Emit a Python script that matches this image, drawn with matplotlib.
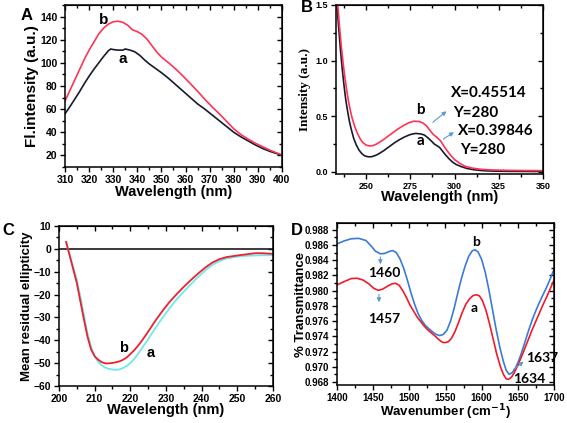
import matplotlib
matplotlib.use("Agg")
import matplotlib.pyplot as plt
from matplotlib.ticker import MultipleLocator

plt.rcParams["font.family"] = "Liberation Sans"
plt.rcParams["font.weight"] = "bold"

# ---- panel A: fluorescence
wl_a = [310, 312, 314, 316, 318, 320, 322, 324, 326, 328, 329, 330, 332, 334, 335, 337,
        339, 341, 343, 345, 348, 350, 353, 356, 359, 362, 365, 368, 371, 374, 377,
        380, 383, 386, 389, 392, 395, 398, 400]
fl_a = [56, 62, 68.5, 75, 82, 88.5, 94.5, 100, 105.5, 110.5, 112, 111.5, 111, 111, 112, 111,
        109.5, 106.5, 102.5, 99, 94.5, 91.5, 86.5, 81, 75.5, 70, 64.5, 60, 55, 50, 45,
        40, 36, 32.5, 29, 26, 23.5, 21.5, 20]
wl_b = [310, 312, 314, 316, 318, 320, 322, 324, 326, 328, 330, 332, 334, 336, 338, 340,
        342, 344, 346, 348, 350, 353, 356, 359, 362, 365, 368, 371, 374, 377, 380,
        383, 386, 389, 392, 395, 398, 400]
fl_b = [67, 76, 85, 94, 103, 111, 118, 125, 130, 133.5, 135.5, 136, 135, 132.5, 128.5, 127,
        124.5, 120.5, 115, 109.5, 105, 100, 94.5, 88.5, 82, 75.5, 68.5, 62, 56, 49.5, 43,
        38, 34, 30.5, 27.5, 24.5, 22, 20.5]

# ---- panel B: UV absorbance
uv_x_a = [233.5, 234.5, 235.5, 236.5, 237.5, 238.5, 239.5, 240.5, 241.5, 243, 244.5, 246,
          247.5, 249, 251, 253, 255, 257, 260, 263, 266, 269, 272, 275, 278, 281, 283,
          285, 287, 288.5, 290, 291.5, 293, 295, 297, 299, 301, 304, 307, 311, 316, 322,
          330, 340, 350]
uv_y_a = [1.5, 1.3, 1.1, 0.93, 0.78, 0.65, 0.55, 0.46, 0.39, 0.3, 0.24, 0.195,
          0.165, 0.145, 0.135, 0.135, 0.145, 0.16, 0.19, 0.225, 0.26, 0.29, 0.315, 0.335,
          0.345, 0.34, 0.33, 0.305, 0.275, 0.25, 0.235, 0.22, 0.19, 0.15, 0.115, 0.085,
          0.065, 0.045, 0.03, 0.018, 0.01, 0.006, 0.004, 0.003, 0.002]
uv_x_b = [234, 235, 236, 237, 238, 239, 240, 241, 242, 243.5, 245, 246.5, 248, 250, 252,
          254, 256, 259, 262, 265, 268, 271, 274, 277, 280, 282, 284, 286, 288, 290, 292,
          294, 296, 298, 300, 303, 306, 310, 315, 320, 330, 340, 350]
uv_y_b = [1.5, 1.3, 1.13, 0.98, 0.85, 0.74, 0.64, 0.56, 0.49, 0.41, 0.35, 0.3, 0.265,
          0.24, 0.232, 0.236, 0.25, 0.28, 0.315, 0.35, 0.385, 0.415, 0.44, 0.455, 0.452,
          0.44, 0.415, 0.375, 0.335, 0.31, 0.28, 0.23, 0.185, 0.145, 0.11, 0.075, 0.05,
          0.033, 0.022, 0.017, 0.013, 0.011, 0.01]

# ---- panel C: circular dichroism
cd_x = [202, 202.5, 203, 204, 205, 206, 207, 208, 209, 210, 211, 212, 213, 214, 215, 216,
        217, 218, 219, 220, 221, 222, 223, 224, 225, 227, 229, 231, 233, 235, 237, 239,
        241, 243, 245, 247, 250, 253, 255, 257, 260]
cd_a = [3, 0, -2.5, -8, -13.5, -21, -29, -37, -43, -47, -49.5, -51, -52, -52.5, -52.8, -52.9,
        -52.7, -52.1, -51.2, -50, -48.3, -46.3, -44, -41.8, -39.5, -34.7, -30.2, -26, -22,
        -18.7, -15.4, -12.3, -9.4, -7, -5.3, -4.2, -3.4, -3, -2.9, -2.8, -2.8]
cd_b = [3, 0, -3, -9, -15, -23, -31, -38.5, -44, -47, -48.5, -49.6, -50.1, -50.1, -49.9, -49.6,
        -49.2, -48.5, -47.5, -46, -44.5, -42.7, -40.7, -38.5, -36.2, -31.5, -27.2, -23.2, -19.8,
        -16.6, -13.6, -10.8, -8.2, -6, -4.5, -3.6, -2.9, -2.3, -1.9, -1.9, -2.2]

# ---- panel D: FTIR
ir_x_b = [1400, 1410, 1420, 1430, 1440, 1447, 1453, 1460, 1466, 1472, 1477, 1482, 1487,
          1492, 1497, 1502, 1507, 1512, 1517, 1522, 1527, 1532, 1537, 1542, 1547, 1552,
          1557, 1562, 1567, 1572, 1577, 1582, 1587, 1591, 1595, 1600, 1605, 1610, 1615,
          1620, 1625, 1630, 1634, 1638, 1642, 1646, 1650, 1655, 1660, 1665, 1670, 1675,
          1680, 1685, 1690, 1695, 1700]
ir_y_b = [0.98615, 0.98655, 0.98683, 0.98688, 0.9866, 0.9859, 0.9852, 0.98485, 0.9849,
          0.98515, 0.98528, 0.9850, 0.9842, 0.9830, 0.9815, 0.9798, 0.9783, 0.9770, 0.9761,
          0.97545, 0.9750, 0.9746, 0.97425, 0.9741, 0.97425, 0.9748, 0.9760, 0.9777, 0.9797,
          0.9816, 0.9832, 0.9845, 0.98525, 0.98537, 0.9851, 0.9841, 0.9824, 0.9801, 0.9775,
          0.9749, 0.9726, 0.9707, 0.9695, 0.9690, 0.9692, 0.9697, 0.9705, 0.9718, 0.9733,
          0.9748, 0.9762, 0.9774, 0.9785, 0.9795, 0.9805, 0.9816, 0.9828]
ir_x_a = [1400, 1410, 1420, 1428, 1436, 1444, 1451, 1457, 1463, 1470, 1476, 1481, 1486,
          1491, 1496, 1501, 1506, 1511, 1516, 1521, 1526, 1531, 1536, 1541, 1546, 1550,
          1554, 1558, 1563, 1568, 1573, 1578, 1583, 1588, 1593, 1597, 1601, 1606, 1611,
          1616, 1621, 1626, 1630, 1634, 1637, 1641, 1645, 1650, 1655, 1660, 1665, 1670,
          1675, 1680, 1685, 1690, 1695, 1700]
ir_y_a = [0.98076, 0.9812, 0.9816, 0.98163, 0.9814, 0.9809, 0.9803, 0.98005, 0.9802, 0.9806,
          0.9809, 0.98097, 0.9807, 0.9800, 0.9791, 0.9781, 0.9773, 0.9765, 0.9759, 0.9753,
          0.9748, 0.9744, 0.9740, 0.97355, 0.9732, 0.97318, 0.9733, 0.9737, 0.9746, 0.9758,
          0.9771, 0.9782, 0.9789, 0.97935, 0.97947, 0.9793, 0.9787, 0.9774, 0.9756, 0.9736,
          0.9716, 0.9700, 0.9690, 0.9684, 0.96835, 0.9686, 0.9692, 0.9702, 0.9713, 0.9725,
          0.9737, 0.9749, 0.9760, 0.9771, 0.9782, 0.9792, 0.9803, 0.9814]

W, H = 567, 423
fig = plt.figure(figsize=(W / 100, H / 100), dpi=100)


def box(l, r, t, b):
    return [l / W, 1 - b / H, (r - l) / W, (b - t) / H]


def style(ax, xmaj, xmin, ymaj, ymin, fs=7.5):
    ax.xaxis.set_major_locator(MultipleLocator(xmaj))
    ax.xaxis.set_minor_locator(MultipleLocator(xmin))
    ax.yaxis.set_major_locator(MultipleLocator(ymaj))
    ax.yaxis.set_minor_locator(MultipleLocator(ymin))
    ax.tick_params(which="both", direction="out", labelsize=fs, width=1, pad=2)
    ax.tick_params(which="major", length=3.5)
    ax.tick_params(which="minor", length=2)
    for s in ax.spines.values():
        s.set_linewidth(1.1)
    for lab in ax.get_xticklabels() + ax.get_yticklabels():
        lab.set_fontweight("bold")
    # inward ticks on top and right, like Origin
    top = ax.secondary_xaxis("top")
    top.xaxis.set_major_locator(MultipleLocator(xmaj))
    top.xaxis.set_minor_locator(MultipleLocator(xmin))
    top.tick_params(which="both", direction="in", labeltop=False, width=1)
    top.tick_params(which="major", length=3.5)
    top.tick_params(which="minor", length=2)
    right = ax.secondary_yaxis("right")
    right.yaxis.set_major_locator(MultipleLocator(ymaj))
    right.yaxis.set_minor_locator(MultipleLocator(ymin))
    right.tick_params(which="both", direction="in", labelright=False, width=1)
    right.tick_params(which="major", length=3.5)
    right.tick_params(which="minor", length=2)


def labels(ax, xl, yl, xy, yx, xfs=10.5, yfs=10, yfamily=None):
    ax.set_xlabel(xl, fontsize=xfs, fontweight="bold", va="center")
    ax.xaxis.set_label_coords(0.5, xy)
    kw = {} if yfamily is None else {"family": yfamily}
    ax.set_ylabel(yl, fontsize=yfs, fontweight="bold", va="center", **kw)
    ax.yaxis.set_label_coords(yx, 0.5)


arrow_kw = dict(arrowstyle="-|>", color="#5b9bd5", lw=0.8, mutation_scale=6)

# A
axA = fig.add_axes(box(65, 282, 5, 167))
axA.plot(wl_a, fl_a, color="#1a1a2e", lw=1.2)
axA.plot(wl_b, fl_b, color="#ff3355", lw=1.2)
axA.set_xlim(310, 400)
axA.set_ylim(10, 150)
style(axA, 10, 5, 20, 10)
labels(axA, "Wavelength (nm)", "Fl.intensity (a.u.)", -0.155, -0.152, yfs=11)
axA.text(326, 137, "b", fontsize=11, fontweight="bold", ha="center", va="center")
axA.text(334, 103, "a", fontsize=11, fontweight="bold", ha="center", va="center")

# B
axB = fig.add_axes(box(336, 543, 5, 174))
axB.plot(uv_x_a, uv_y_a, color="#1a1a2e", lw=1.2)
axB.plot(uv_x_b, uv_y_b, color="#ff3355", lw=1.2)
axB.set_xlim(233, 350)
axB.set_ylim(-0.02, 1.5)
style(axB, 25, 12.5, 0.5, 0.25, fs=6.5)
labels(axB, "Wavelength (nm)", "Intensity (a.u.)", -0.136, -0.15, yfs=9.5,
       yfamily="Liberation Serif")
axB.text(281, 0.56, "b", fontsize=11, ha="center", va="center", family="Lato")
axB.text(281, 0.28, "a", fontsize=11, ha="center", va="center", family="Lato")
axB.annotate("", xy=(296.7, 0.56), xytext=(286.5, 0.43), arrowprops=arrow_kw)
axB.annotate("", xy=(301, 0.37), xytext=(292.3, 0.28), arrowprops=arrow_kw)
bfont = dict(fontsize=11, fontweight="bold", family="Lato", va="center")
axB.text(298, 0.71, "X=0.45514", **bfont)
axB.text(299, 0.53, "Y=280", **bfont)
axB.text(302, 0.366, "X=0.39846", **bfont)
axB.text(303, 0.195, "Y=280", **bfont)

# C
axC = fig.add_axes(box(59, 273, 226, 386))
axC.axhline(0, color="#1a1a1a", lw=1.2)
axC.plot(cd_x, cd_a, color="#70e8e8", lw=1.3)
axC.plot(cd_x, cd_b, color="#ee2030", lw=1.3)
axC.set_xlim(200, 260)
axC.set_ylim(-60, 10)
style(axC, 10, 5, 10, 5)
labels(axC, "Wavelength (nm)", "Mean residual ellipticity", -0.152, -0.15, yfs=9.5)
axC.text(218, -43.4, "b", fontsize=10.5, fontweight="bold", ha="center", va="center")
axC.text(225.6, -45.6, "a", fontsize=10.5, fontweight="bold", ha="center", va="center")

# D
axD = fig.add_axes(box(337, 554, 223, 385))
axD.plot(ir_x_b, ir_y_b, color="#3a7bd5", lw=1.2)
axD.plot(ir_x_a, ir_y_a, color="#ee1c2a", lw=1.2)
axD.set_xlim(1400, 1700)
axD.set_ylim(0.9676, 0.9889)
style(axD, 50, 25, 0.002, 0.001, fs=7)
labels(axD, "Wavenumber (cm$^{\\mathbf{-1}}$)", "% Transmittance", -0.165, -0.166,
       xfs=9.5, yfs=9.5)
axD.annotate("", xy=(1460, 0.9831), xytext=(1460, 0.9848), arrowprops=arrow_kw)
axD.annotate("", xy=(1458, 0.9781), xytext=(1458, 0.9799), arrowprops=arrow_kw)
axD.annotate("", xy=(1661, 0.9709), xytext=(1641, 0.9694), arrowprops=arrow_kw)
dfont = dict(fontsize=10, fontweight="bold", family="Lato", va="center")
axD.text(1465, 0.98227, "1460", ha="center", **dfont)
axD.text(1465, 0.97632, "1457", ha="center", **dfont)
axD.text(1661, 0.97115, "1637", ha="left", **dfont)
axD.text(1643, 0.96834, "1634", ha="left", **dfont)
axD.text(1592.6, 0.98636, "b", ha="center", **dfont)
axD.text(1589, 0.97774, "a", ha="center", **dfont)

# panel letters
for lbl, x, y in [("A", 27, 15), ("B", 307, 8), ("C", 8, 230), ("D", 297, 230)]:
    fig.text(x / W, 1 - y / H, lbl, fontsize=12, fontweight="bold", ha="center", va="center")

fig.savefig("out.png", dpi=100)
